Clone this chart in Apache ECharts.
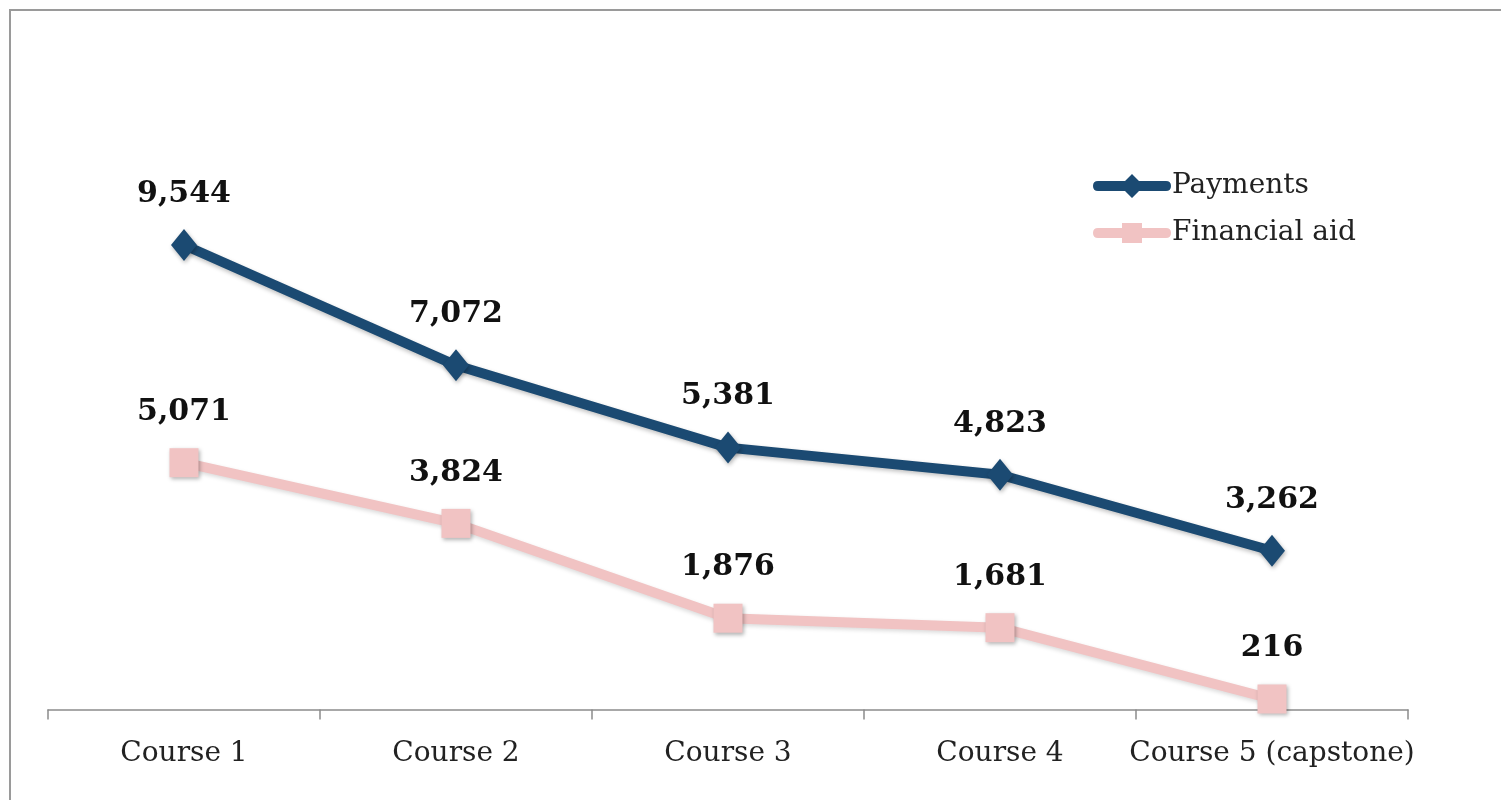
<!DOCTYPE html>
<html>
<head>
<meta charset="utf-8">
<script src="https://cdn.jsdelivr.net/npm/echarts@6/dist/echarts.min.js"></script>
<style>
html,body{margin:0;padding:0;background:#fff;}
#frame{position:absolute;left:9px;top:9px;width:1492px;height:791px;border-left:2px solid #9a9a9a;border-top:2px solid #9a9a9a;box-sizing:border-box;}
#chart{position:absolute;left:0;top:0;width:1501px;height:800px;}
</style>
</head>
<body>
<div id="frame"></div>
<div id="chart"></div>
<script>
const categories = ['Course 1', 'Course 2', 'Course 3', 'Course 4', 'Course 5 (capstone)'];
const payments = [9544, 7072, 5381, 4823, 3262];
const financialAid = [5071, 3824, 1876, 1681, 216];

const chart = echarts.init(document.getElementById('chart'));
const labelStyle = {
  show: true,
  position: 'top',
  fontFamily: 'DejaVu Serif',
  fontWeight: 'bold',
  fontSize: 30,
  color: '#111',
  formatter: p => p.value.toLocaleString('en-US')
};
chart.setOption({
  animation: false,
  backgroundColor: 'transparent',
  grid: {left: 48, right: 93, top: 125.5, bottom: 90.5, containLabel: false},
  legend: {
    orient: 'vertical',
    left: 1088,
    top: 167,
    itemWidth: 78,
    itemHeight: 24,
    itemGap: 19,
    textStyle: {fontFamily: 'DejaVu Serif', fontSize: 28, color: '#222', padding: [0, 0, 0, -4]},
    data: [
      {name: 'Payments', icon: 'path://M5,7 L32,7 L39,0 L46,7 L73,7 Q78,7 78,12 Q78,17 73,17 L46,17 L39,24 L32,17 L5,17 Q0,17 0,12 Q0,7 5,7 Z'},
      {name: 'Financial aid', icon: 'path://M5,7 L29,7 L29,2 L49,2 L49,7 L73,7 Q78,7 78,12 Q78,17 73,17 L49,17 L49,22 L29,22 L29,17 L5,17 Q0,17 0,12 Q0,7 5,7 Z'}
    ]
  },
  xAxis: {
    type: 'category',
    data: categories,
    boundaryGap: true,
    axisLine: {lineStyle: {color: '#8c8c8c', width: 1.5}},
    axisTick: {show: true, length: 10, interval: 0, lineStyle: {color: '#8c8c8c', width: 1.5}},
    axisLabel: {interval: 0, fontFamily: 'DejaVu Serif', fontSize: 28, color: '#222', margin: 30, lineHeight: 28}
  },
  yAxis: {
    type: 'value',
    min: 0,
    max: 12000,
    show: false,
    splitLine: {show: false}
  },
  series: [
    {
      name: 'Payments',
      type: 'line',
      data: payments,
      color: '#1b4a72',
      symbol: 'diamond',
      symbolSize: [26, 32],
      lineStyle: {width: 10, color: '#1b4a72', shadowBlur: 4, shadowColor: 'rgba(0,0,0,0.25)', shadowOffsetY: 2},
      itemStyle: {color: '#1b4a72', shadowBlur: 4, shadowColor: 'rgba(0,0,0,0.3)', shadowOffsetX: 1, shadowOffsetY: 2},
      label: Object.assign({}, labelStyle, {distance: 20})
    },
    {
      name: 'Financial aid',
      type: 'line',
      data: financialAid,
      color: '#f1c3c3',
      symbol: 'rect',
      symbolSize: 29,
      lineStyle: {width: 10, color: '#f1c3c3', shadowBlur: 4, shadowColor: 'rgba(0,0,0,0.15)', shadowOffsetY: 2},
      itemStyle: {color: '#f1c3c3', shadowBlur: 4, shadowColor: 'rgba(0,0,0,0.3)', shadowOffsetX: 1, shadowOffsetY: 2},
      label: Object.assign({}, labelStyle, {distance: 21})
    }
  ]
});
</script>
</body>
</html>
